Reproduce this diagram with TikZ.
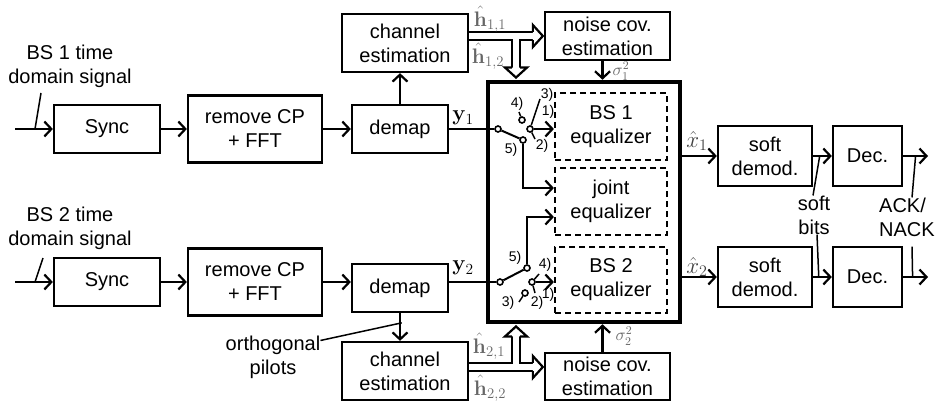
\RequirePackage{fix-cm}
\documentclass[tikz,border=0pt]{standalone}
\usepackage{amsmath,amssymb}
\usepackage[no-math]{fontspec}
\setmainfont{Liberation Sans}
\usetikzlibrary{arrows.meta,calc}

\tikzset{
  blk/.style={draw, line width=2.3pt, align=center, inner sep=2pt},
  eqbox/.style={draw, line width=2.2pt, dash pattern=on 6pt off 4pt, align=center},
  sig/.style={line width=2.2pt, -{Straight Barb[length=7pt,width=15pt]}},
  est/.style={line width=2.2pt, double, double distance=6pt},
  % hollow head for the double arrows, tip at the origin
  esthead/.pic={\draw[line width=2.2pt, fill=white, line join=miter]
    (-10,4.1) -- (-10,11) -- (0,0) -- (-10,-11) -- (-10,-4.1);},
  lead/.style={line width=1.5pt},
  pin/.style={circle, draw, fill=white, line width=1.6pt, inner sep=0pt, minimum size=6pt},
  num/.style={font=\fontsize{14}{14}\selectfont, inner sep=0pt},
  est lbl/.style={inner sep=0pt, text=black!60, font=\fontsize{21}{21}\selectfont},
}

\begin{document}
\begin{tikzpicture}[x=1pt,y=1pt,font=\fontsize{20}{24}\selectfont]
  \useasboundingbox (0,0) rectangle (936,405);

  % BS 1 branch
  \coordinate (in1) at (15,276);
  \node[blk, minimum width=106, minimum height=48] (sync1) at (107,276) {Sync};
  \node[blk, minimum width=134, minimum height=67] (fft1) at (255,276) {remove CP\\+ FFT};
  \node[blk, minimum width=96, minimum height=48] (demap1) at (400,276) {demap};
  \node[blk, minimum width=126, minimum height=58] (chest1) at (405,362) {channel\\estimation};
  \node[blk, minimum width=125, minimum height=48] (ncov1) at (607.5,369) {noise cov.\\estimation};

  % BS 2 branch
  \coordinate (in2) at (15,123);
  \node[blk, minimum width=106, minimum height=48] (sync2) at (107,123) {Sync};
  \node[blk, minimum width=134, minimum height=67] (fft2) at (255,123) {remove CP\\+ FFT};
  \node[blk, minimum width=96, minimum height=48] (demap2) at (400,117) {demap};
  \node[blk, minimum width=126, minimum height=58] (chest2) at (405,34) {channel\\estimation};
  \node[blk, minimum width=125, minimum height=47] (ncov2) at (607.5,28.5) {noise cov.\\estimation};

  % equalizers
  \node[draw, line width=4.5pt, minimum width=192, minimum height=240] (rx) at (584,203) {};
  \node[eqbox, minimum width=112, minimum height=67] (eq1) at (611,278.5) {BS 1\\equalizer};
  \node[eqbox, minimum width=112, minimum height=67] (jeq) at (611,203.5) {joint\\equalizer};
  \node[eqbox, minimum width=112, minimum height=66] (eq2) at (611,125) {BS 2\\equalizer};

  % demodulation and decoding
  \node[blk, minimum width=94, minimum height=60] (dem1) at (765,249) {soft\\demod.};
  \node[blk, minimum width=69, minimum height=60] (dec1) at (867.5,249) {Dec.};
  \node[blk, minimum width=94, minimum height=60] (dem2) at (765,128) {soft\\demod.};
  \node[blk, minimum width=69, minimum height=60] (dec2) at (867.5,128) {Dec.};
  \coordinate (out1) at (928,249);
  \coordinate (out2) at (928,128);

  \draw[sig] (in1) -- (sync1);
  \draw[sig] (sync1) -- (fft1);
  \draw[sig] (fft1) -- (demap1);
  \draw[sig] (demap1) -- (demap1 |- chest1.south);
  \draw[sig] (in2) -- (sync2);
  \draw[sig] (sync2) -- (fft2);
  \draw[sig] (fft2) -- (fft2 -| demap2.west);
  \draw[sig] (demap2) -- (demap2 |- chest2.north);

  % switch 1
  \node[pin] (sw1) at (498,276) {};
  \node[pin] (sw1e) at (523,265) {};
  \node[pin] (sw1a) at (530,276) {};
  \node[pin] (sw1d) at (522,285) {};
  \draw[line width=2.2pt] (demap1) -- (sw1);
  \draw[line width=2pt] (sw1) -- (sw1e);
  \draw[sig] (sw1e.south) |- (jeq.west |- 0,217);
  \draw[sig] (sw1a) -- (sw1a -| eq1.west);
  \draw[lead] (sw1a) -- (540,306);
  \draw[lead] (sw1a) -- (535,266);
  \draw[lead] (sw1d) -- (519,293);
  \node[num] at (517,301) {4)};
  \node[num] at (547,310) {3)};
  \node[num] at (548,293) {1)};
  \node[num] at (542,259) {2)};
  \node[num] at (511,255) {5)};

  % switch 2
  \node[pin] (sw2) at (500,123) {};
  \node[pin] (sw2e) at (527,137) {};
  \node[pin] (sw2a) at (532,123) {};
  \node[pin] (sw2c) at (525,112) {};
  \draw[line width=2.2pt] (demap2.east |- sw2) -- (sw2);
  \draw[line width=2pt] (sw2) -- (sw2e);
  \draw[sig] (sw2e.north) |- (jeq.west |- 0,188);
  \draw[sig] (sw2a) -- (sw2a -| eq2.west);
  \draw[lead] (sw2a) -- (539,131);
  \draw[lead] (sw2a) -- (535,112);
  \draw[lead] (sw2c) -- (519,103);
  \node[num] at (515,147) {5)};
  \node[num] at (545,140) {4)};
  \node[num] at (508,102) {3)};
  \node[num] at (537,102) {2)};
  \node[num] at (548,110) {1)};

  % channel estimates: T-shaped double arrows
  \coordinate (j1) at (516,369);
  \coordinate (j2) at (516,38);
  \coordinate (t1) at (j1 |- rx.north);
  \coordinate (t2) at (j2 |- rx.south);
  \coordinate (t3) at (ncov2.west |- j2);
  \draw[est] (j1) -- ([yshift=12.2pt]t1);
  \pic[rotate=-90] at ([yshift=2.2pt]t1) {esthead};
  \draw[est] (chest1.east |- j1) -- ([xshift=-11pt]ncov1.west);
  \pic at ([xshift=-1pt]ncov1.west) {esthead};
  \fill[white] ([xshift=-3pt]j1) rectangle ([xshift=3pt,yshift=-5.5pt]j1);
  \draw[est] (j2) -- ([yshift=-12.2pt]t2);
  \pic[rotate=90] at ([yshift=-2.2pt]t2) {esthead};
  \draw[est] (chest2.east |- j2) -- ([xshift=-11pt]t3);
  \pic at ([xshift=-1pt]t3) {esthead};
  \fill[white] ([xshift=-3pt]j2) rectangle ([xshift=3pt,yshift=5.5pt]j2);
  \coordinate (n1) at ([xshift=-5pt]ncov1.south);
  \coordinate (n2) at ([xshift=-5pt]ncov2.north);
  \draw[sig] (n1) -- (n1 |- rx.north);
  \draw[sig] (n2) -- (n2 |- rx.south);

  \node[est lbl] at (490,386) {$\hat{\mathbf{h}}_{1,1}$};
  \node[est lbl] at (488,349) {$\hat{\mathbf{h}}_{1,2}$};
  \node[est lbl] at (489,59) {$\hat{\mathbf{h}}_{2,1}$};
  \node[est lbl] at (490,17) {$\hat{\mathbf{h}}_{2,2}$};
  \node[est lbl, font=\fontsize{17}{17}\selectfont] at (621,334) {$\sigma_1^2$};
  \node[est lbl, font=\fontsize{17}{17}\selectfont] at (624,69) {$\sigma_2^2$};
  \node[inner sep=0pt, font=\fontsize{22}{22}\selectfont] at (463,287) {$\mathbf{y}_1$};
  \node[inner sep=0pt, font=\fontsize{22}{22}\selectfont] at (463,137) {$\mathbf{y}_2$};

  % outputs
  \draw[sig] (rx.east |- dem1) -- (dem1);
  \draw[sig] (dem1) -- (dec1);
  \draw[sig] (dec1) -- (out1);
  \draw[sig] (rx.east |- dem2) -- (dem2);
  \draw[sig] (dem2) -- (dec2);
  \draw[sig] (dec2) -- (out2);
  \node[inner sep=0pt, text=black!75, font=\fontsize{23}{23}\selectfont] at (697,264) {$\hat{x}_1$};
  \node[inner sep=0pt, text=black!75, font=\fontsize{23}{23}\selectfont] at (697,138) {$\hat{x}_2$};

  % side labels
  \node[anchor=south, inner sep=0pt, align=center] (bs1) at (70,317) {BS 1 time\\domain signal};
  \draw[lead] ([xshift=20pt]in1) -- ([xshift=-29pt,yshift=-5pt]bs1.south);
  \node[anchor=south, inner sep=0pt, align=center] (bs2) at (70,155) {BS 2 time\\domain signal};
  \draw[lead] ([xshift=20pt]in2) -- ([xshift=-27pt,yshift=-8pt]bs2.south);
  \node[align=center, inner sep=0pt] (orth) at (273,48) {orthogonal\\pilots};
  \draw[lead] ([yshift=-5pt]orth.north east) -- ($(demap2.south)!0.35!(chest2.north)$);
  \node[align=center, inner sep=0pt] (bits) at (814,190) {soft\\bits};
  \draw[lead] ([xshift=-1pt]bits.north) -- ($(dem1.east)!0.35!(dec1.west)$);
  \draw[lead] ([xshift=3pt]bits.south) -- ($(dem2.east)!0.3!(dec2.west)$);
  \node[align=left, inner sep=0pt, anchor=west] (ack) at (879,188) {ACK/\\NACK};
  \draw[lead] ([xshift=33pt]ack.north west) -- ($(dec1.east)!0.5!(out1)$);
  \draw[lead] ([xshift=33pt,yshift=-10pt]ack.south west) -- ($(dec2.east)!0.38!(out2)$);
\end{tikzpicture}
\end{document}
